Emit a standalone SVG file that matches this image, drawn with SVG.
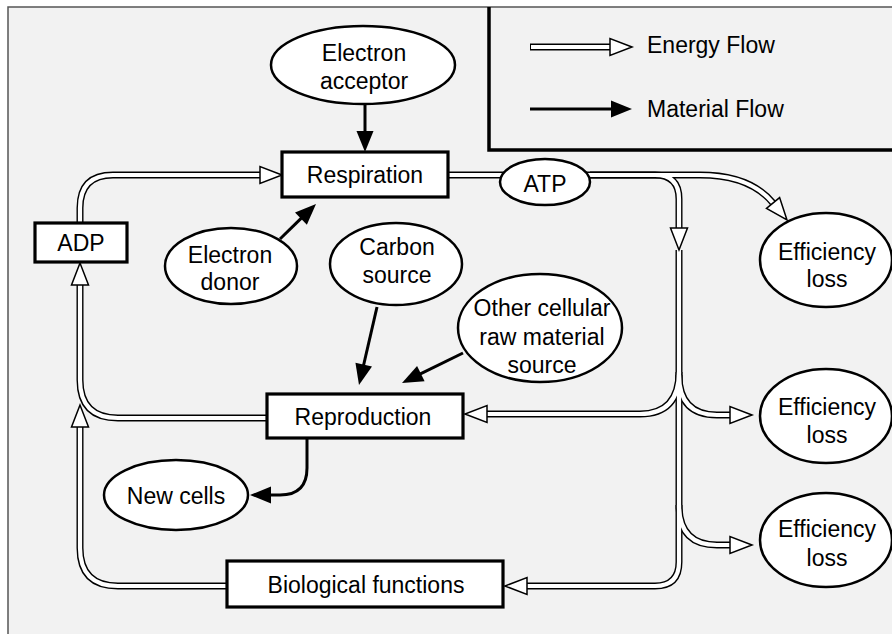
<svg xmlns="http://www.w3.org/2000/svg" xmlns:xlink="http://www.w3.org/1999/xlink" width="892" height="635" viewBox="0 0 892 635">
<style>
text{font-family:"Liberation Sans",Arial,sans-serif;font-size:23px;fill:#000;text-anchor:middle}
.box{fill:#fff;stroke:#000;stroke-width:3.2}
.ell{fill:#fff;stroke:#000;stroke-width:2.5}
.eo{fill:none;stroke:#000;stroke-width:7}
.ei{fill:none;stroke:#fff;stroke-width:4.2}
.m{fill:none;stroke:#000;stroke-width:3}
.eh{fill:#fff;stroke:#000;stroke-width:1.5;stroke-linejoin:miter}
.mh{fill:#000;stroke:none}
</style>
<defs>
<path id="ea" d="M0,0 L-22,-8.5 L-22,8.5 Z"/>
<path id="ma" d="M0,0 L-21,-8.5 L-21,8.5 Z"/>
</defs>
<rect x="8" y="7" width="890" height="627" fill="#f2f2f2"/>
<path d="M8,634 V7 H892" fill="none" stroke="#555" stroke-width="1.5"/>
<g id="legend">
<path d="M489,7 V150 H892" fill="none" stroke="#000" stroke-width="3.5"/>
<path class="eo" d="M530,47 H611"/>
<path class="ei" d="M531,47 H611"/>
<use href="#ea" class="eh" transform="translate(632,47)"/>
<text x="647" y="53" style="text-anchor:start">Energy Flow</text>
<path class="m" d="M530,109 H612"/>
<use href="#ma" class="mh" transform="translate(632,109)"/>
<text x="647" y="117" style="text-anchor:start">Material Flow</text>
</g>
<g id="connectors">
<g id="energy-outer" class="eo">
<path d="M80,223 V208 Q80,175 113,175 H261"/>
<path d="M267,418 H118 Q80,418 80,380 V284"/>
<path d="M227,586 H118 Q80,586 80,548 V426"/>
<path d="M448,175 H655 Q679,175 679,199 V229"/>
<path d="M590,175 H700 Q750,175 773,203"/>
<path d="M679,250 V562 Q679,586 655,586 H526"/>
<path d="M679,372 Q679,414 640,414 H486"/>
<path d="M679,375 Q679,415 717,415 H731"/>
<path d="M679,505 Q679,545 717,545 H731"/>
</g>
<g id="energy-inner" class="ei">
<path d="M80,223 V208 Q80,175 113,175 H261"/>
<path d="M267,418 H118 Q80,418 80,380 V284"/>
<path d="M227,586 H118 Q80,586 80,548 V426"/>
<path d="M448,175 H655 Q679,175 679,199 V229"/>
<path d="M590,175 H700 Q750,175 773,203"/>
<path d="M679,250 V562 Q679,586 655,586 H526"/>
<path d="M679,372 Q679,414 640,414 H486"/>
<path d="M679,375 Q679,415 717,415 H731"/>
<path d="M679,505 Q679,545 717,545 H731"/>
</g>
<g id="energy-heads" class="eh">
<use href="#ea" transform="translate(282,175)"/>
<use href="#ea" transform="translate(80,263) rotate(-90)"/>
<use href="#ea" transform="translate(80,405) rotate(-90)"/>
<use href="#ea" transform="translate(679,250) rotate(90)"/>
<use href="#ea" transform="translate(787,220) rotate(50.6)"/>
<use href="#ea" transform="translate(505,586) rotate(180)"/>
<use href="#ea" transform="translate(465,414) rotate(180)"/>
<use href="#ea" transform="translate(752,415)"/>
<use href="#ea" transform="translate(752,545)"/>
</g>
<g id="material" class="m">
<path d="M365,104 V132"/>
<path d="M280,239 L301.6,217.9"/>
<path d="M377,307 L363.5,365.5"/>
<path d="M463,353 L419.9,374.2"/>
<path d="M307,438 V468 Q307,495 280,495 H270"/>
</g>
<g id="material-heads" class="mh">
<use href="#ma" transform="translate(365,152) rotate(90)"/>
<use href="#ma" transform="translate(316,204) rotate(-44.2)"/>
<use href="#ma" transform="translate(359,385) rotate(103)"/>
<use href="#ma" transform="translate(402,383) rotate(153.8)"/>
<use href="#ma" transform="translate(250,495) rotate(180)"/>
</g>
</g>
<g id="electron-acceptor"><ellipse class="ell" cx="363" cy="65" rx="92" ry="39"/><text x="364" y="61">Electron</text><text x="364" y="89">acceptor</text></g>
<g id="respiration"><rect class="box" x="282" y="152" width="166" height="45"/><text x="365" y="183">Respiration</text></g>
<g id="adp"><rect class="box" x="35" y="223" width="92" height="39"/><text x="81" y="251">ADP</text></g>
<g id="electron-donor"><ellipse class="ell" cx="231" cy="266" rx="66" ry="38"/><text x="230" y="263">Electron</text><text x="230" y="290">donor</text></g>
<g id="carbon-source"><ellipse class="ell" cx="396" cy="264" rx="66" ry="41"/><text x="397" y="255">Carbon</text><text x="397" y="283">source</text></g>
<g id="other-source"><ellipse class="ell" cx="540" cy="328" rx="82" ry="54"/><text x="542" y="316">Other cellular</text><text x="542" y="345">raw material</text><text x="542" y="373">source</text></g>
<g id="atp"><ellipse class="ell" cx="545" cy="182" rx="45" ry="23"/><text x="545" y="192">ATP</text></g>
<g id="efficiency-loss-1"><ellipse class="ell" cx="826" cy="260" rx="66" ry="47"/><text x="827" y="260">Efficiency</text><text x="827" y="287">loss</text></g>
<g id="efficiency-loss-2"><ellipse class="ell" cx="826" cy="416" rx="66" ry="47"/><text x="827" y="415">Efficiency</text><text x="827" y="443">loss</text></g>
<g id="efficiency-loss-3"><ellipse class="ell" cx="826" cy="540" rx="66" ry="47"/><text x="827" y="537">Efficiency</text><text x="827" y="566">loss</text></g>
<g id="reproduction"><rect class="box" x="267" y="394" width="196" height="44"/><text x="363" y="425">Reproduction</text></g>
<g id="new-cells"><ellipse class="ell" cx="176" cy="495" rx="72" ry="35"/><text x="176" y="504">New cells</text></g>
<g id="biological-functions"><rect class="box" x="227" y="561" width="276" height="46"/><text x="366" y="593">Biological functions</text></g>
</svg>
